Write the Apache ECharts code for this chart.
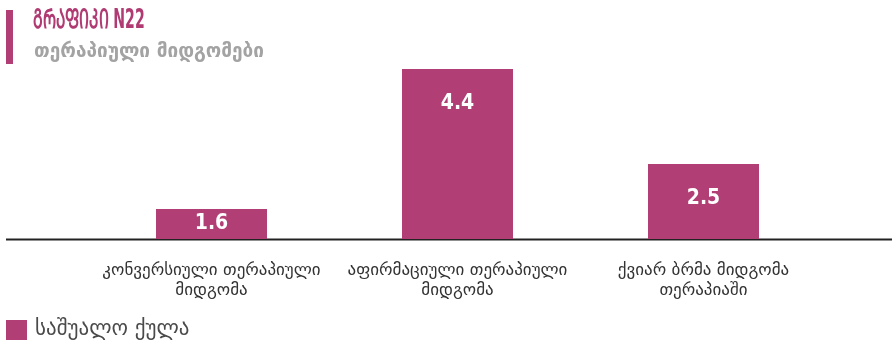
<!DOCTYPE html>
<html>
<head>
<meta charset="utf-8">
<style>
  html, body { margin: 0; padding: 0; background: #ffffff; }
  #chart { width: 896px; height: 344px; }
</style>
<script src="https://cdn.jsdelivr.net/npm/echarts@6/dist/echarts.min.js"></script>
</head>
<body>
<div id="chart"></div>
<script>
// Average score by therapeutic approach
const categories = [
  'კონვერსიული თერაპიული\nმიდგომა',
  'აფირმაციული თერაპიული\nმიდგომა',
  'ქვიარ ბრმა მიდგომა\nთერაპიაში'
];
const scores = [1.6, 4.4, 2.5];
const seriesName = 'საშუალო ქულა';
const titleText = 'ᲒᲠᲐᲤᲘᲙᲘ N22';
const subtitleText = 'თერაპიული მიდგომები';

const BAR = '#b13e74';
const chart = echarts.init(document.getElementById('chart'), null, { renderer: 'canvas' });

const barData = scores.map(function (v) {
  // short bars carry their label in the middle, taller ones near the top
  const pos = v < 2 ? ['50%', '50%'] : ['50%', 35];
  return { value: v, label: { position: pos } };
});

chart.setOption({
  animation: false,
  backgroundColor: '#ffffff',
  title: [
    {
      text: subtitleText,
      left: 29, top: 38,
      textStyle: { color: '#a3a3a3', fontFamily: 'DejaVu Sans', fontWeight: 'bold', fontSize: 19 }
    }
  ],
  legend: {
    left: 6, top: 317, padding: 0,
    itemWidth: 21, itemHeight: 20, itemGap: 20,
    icon: 'rect',
    textStyle: { color: '#4a4a4a', fontFamily: 'DejaVu Sans', fontSize: 21, lineHeight: 26, padding: [0, 0, 0, 3] },
    data: [seriesName]
  },
  grid: { left: 88.5, right: 69.5, top: 39, bottom: 105 },
  xAxis: {
    type: 'category',
    data: categories,
    axisLine: { show: false },
    axisTick: { show: false },
    axisLabel: {
      color: '#333333', fontFamily: 'DejaVu Sans', fontSize: 17,
      lineHeight: 20, margin: 22, interval: 0
    }
  },
  yAxis: {
    type: 'value', min: 1, max: 5,
    show: false, splitLine: { show: false }
  },
  series: [{
    name: seriesName,
    type: 'bar',
    barWidth: 111,
    itemStyle: { color: BAR },
    label: {
      show: true,
      align: 'center', verticalAlign: 'middle',
      color: '#ffffff', fontFamily: 'DejaVu Sans Condensed', fontWeight: 'bold', fontSize: 21
    },
    data: barData
  }]
});

// heading (narrowed), side accent bar and the full-width baseline under the bars
const baseY = chart.convertToPixel({ yAxisIndex: 0 }, 1);
chart.setOption({
  graphic: [
    { type: 'rect', shape: { x: 6, y: 10, width: 7, height: 54 }, style: { fill: BAR } },
    { type: 'text', x: 33, y: 7, scaleX: 0.58,
      style: { text: titleText, fill: '#b03a72', font: 'bold 27px "DejaVu Sans Condensed"' } },
    { type: 'line', shape: { x1: 6, y1: Math.round(baseY) + 0.5, x2: 892, y2: Math.round(baseY) + 0.5 },
      style: { stroke: '#222222', lineWidth: 2 } }
  ]
});
</script>
</body>
</html>
